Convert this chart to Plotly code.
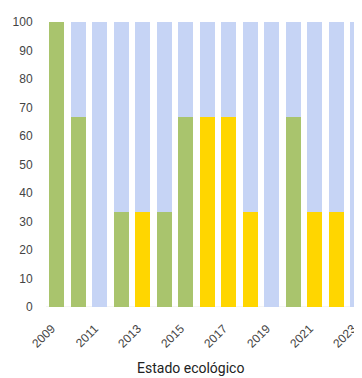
import plotly.graph_objects as go

years = [str(y) for y in range(2009, 2024)]
green = [100, 66.7, 0, 33.3, 0, 33.3, 66.7, 0, 0, 0, 0, 66.7, 0, 0, 0]
yellow = [0, 0, 0, 0, 33.3, 0, 0, 66.7, 66.7, 33.3, 0, 0, 33.3, 33.3, 0]
blue = [0, 33.3, 100, 66.7, 66.7, 66.7, 33.3, 33.3, 33.3, 66.7, 100, 33.3, 66.7, 66.7, 100]
tick_years = [str(y) for y in range(2009, 2024, 2)]
y_ticks = list(range(0, 101, 10))

fig = go.Figure()
for name, vals, col in [("Bueno", green, "#A9C46D"),
                        ("Moderado", yellow, "#FFD600"),
                        ("Sin dato", blue, "#C6D4F5")]:
    fig.add_trace(go.Bar(x=years, y=vals, name=name, marker_color=col,
                         marker_line_width=0))

fig.update_layout(
    barmode="stack",
    bargap=0.29,
    width=354, height=370,
    margin=dict(l=38, r=0, t=14, b=71),
    paper_bgcolor="white", plot_bgcolor="white",
    showlegend=False,
    font=dict(family="Liberation Sans, Arial", size=12, color="#444"),
)
fig.update_xaxes(
    type="category",
    range=[-0.5, 14.2],
    tickmode="array", tickvals=tick_years, ticktext=tick_years,
    tickangle=-45, showgrid=False, zeroline=False, showline=False,
    ticks="outside", ticklen=4, tickcolor="rgba(0,0,0,0)",
    ticklabelshift=-5, ticklabelstandoff=5,
    tickfont=dict(size=12, color="#444"),
)
fig.update_yaxes(
    range=[0, 100], tickvals=y_ticks, showgrid=False,
    zeroline=False, showline=False,
    ticks="outside", ticklen=10, tickcolor="rgba(0,0,0,0)",
    tickfont=dict(size=12, color="#444"),
)
fig.add_shape(type="line", xref="paper", yref="y", x0=0, x1=1, y0=0, y1=0,
              line=dict(color="#e8e8e8", width=1), layer="below")
fig.add_annotation(text="Estado ecológico", xref="paper", yref="paper",
                   x=0.456, y=0, yshift=-61, yanchor="middle", showarrow=False,
                   font=dict(family="Roboto, Arial", size=14, color="#222"))

fig.write_html("out.html")
